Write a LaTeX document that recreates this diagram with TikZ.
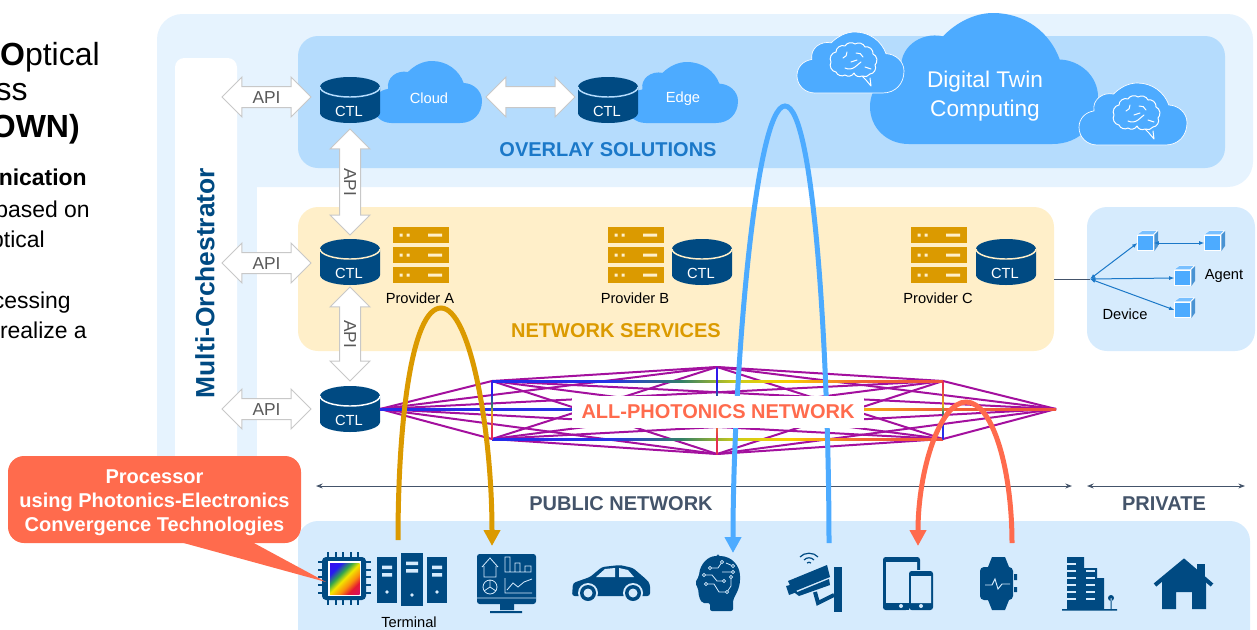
\documentclass[tikz,border=0pt]{standalone}
\usepackage{fontspec}
\setmainfont{Liberation Sans}
\usetikzlibrary{positioning,arrows.meta,shapes.arrows}

\definecolor{bandblue}{HTML}{E6F3FE}
\definecolor{overlaybg}{HTML}{B5DCFD}
\definecolor{servicebg}{HTML}{FFEFC9}
\definecolor{edgebg}{HTML}{D6EBFD}
\definecolor{cloudblue}{HTML}{4DABFF}
\definecolor{navy}{HTML}{004A82}
\definecolor{amber}{HTML}{DB9A00}
\definecolor{coral}{HTML}{FF6B4D}
\definecolor{slate}{HTML}{44546A}
\definecolor{titleblue}{HTML}{1B78C8}
\definecolor{meshpurple}{HTML}{A3109E}
\definecolor{apigray}{HTML}{C8C8C8}
\definecolor{apitext}{HTML}{595959}

\pgfdeclarehorizontalshading{rainbowh}{100bp}{rgb(0bp)=(.15,.1,.95); rgb(38bp)=(.15,.2,.9); rgb(46bp)=(.2,.5,.4); rgb(52bp)=(.8,.8,.1); rgb(58bp)=(.98,.8,0); rgb(66bp)=(.95,.4,.2); rgb(100bp)=(.9,.1,.4)}
\pgfdeclareverticalshading{rainbowup}{100bp}{rgb(0bp)=(.9,.1,.4); rgb(35bp)=(.9,.2,.3); rgb(48bp)=(.9,.7,.1); rgb(54bp)=(.2,.5,.4); rgb(65bp)=(.15,.1,.95); rgb(100bp)=(.4,.1,.8)}
\pgfdeclareverticalshading{rainbowdown}{100bp}{rgb(0bp)=(.15,.1,.95); rgb(40bp)=(.15,.2,.9); rgb(48bp)=(.2,.5,.4); rgb(54bp)=(.9,.7,.1); rgb(70bp)=(.9,.2,.3); rgb(100bp)=(.9,.1,.4)}
\pgfdeclarehorizontalshading{rainbowchip}{100bp}{rgb(0bp)=(.3,0,.9); rgb(28bp)=(.15,.1,.95); rgb(40bp)=(.2,.65,.3); rgb(50bp)=(.95,.9,0); rgb(62bp)=(.98,.55,.05); rgb(72bp)=(.9,.1,.2); rgb(100bp)=(.8,0,.6)}

\tikzset{
  smalltext/.style={font=\fontsize{11}{13}\selectfont},
  headtext/.style={font=\bfseries\fontsize{15}{18}\selectfont},
  introtext/.style={anchor=base east,inner sep=0pt,font=\fontsize{17.2}{20}\selectfont},
  titletext/.style={anchor=base east,inner sep=0pt,font=\fontsize{24}{28}\selectfont},
  apiarrow/.style={double arrow,draw=apigray,fill=white,line width=.75pt,inner sep=0pt,
    text height=12pt,text depth=3pt,double arrow head extend=7.1pt,double arrow tip angle=90,
    text=apitext,font=\fontsize{13}{15}\selectfont},
  meshline/.style={draw=meshpurple,line width=1.5pt},
  bigarc/.style={line width=3.75pt,-{Triangle[length=12pt,width=12pt]}},
  reach/.style={slate,line width=.75pt,{Stealth[length=5pt]}-{Stealth[length=5pt]}},
  devlink/.style={titleblue,line width=.75pt,{Latex[length=4pt]}-{Latex[length=4pt]}},
  cubeface/.style={draw=white,fill=cloudblue,line width=.6pt,minimum size=11.5pt,inner sep=0pt},
  cloudpath/.pic={
    \path[pic actions] (17,100) .. controls (7,100) and (0,87) .. (0,71.6)
      .. controls (0,57) and (6,47) .. (13.9,45)
      .. controls (12,27) and (22,14) .. (32,17.8)
      .. controls (38,7) and (46,0) .. (54,0)
      .. controls (68,0) and (79,15) .. (83.2,35.5)
      .. controls (92,36) and (100,48) .. (100,64)
      .. controls (100,85) and (92,100) .. (80,100) -- cycle;
  },
  brainpic/.pic={
    \draw[white,line width=.75pt,line join=round,line cap=round]
      (-17,7) to[bend left=60] (-22,-3) to[bend left=60] (-17,-13) to[bend left=60] (-8,-19)
      to[bend left=50] (2,-21) to[bend left=50] (12,-18) to[bend left=60] (20,-11)
      to[bend left=60] (22,0) to[bend left=60] (17,9) to[bend left=40] (9,11)
      -- (13,15) -- (18,21) -- (17,13) (9,11) to[bend left=50] (1,8)
      to[bend left=50] (-8,10) to[bend left=50] (-17,7);
    \draw[white,line width=.75pt,line cap=round]
      (-10,-7) to[bend right=40] (-6,-13) (-8,3) to[bend right=30] (2,2) -- (8,-3)
      (3,-12) to[bend left=40] (10,-8) (12,2) -- (18,4) (-2,-3) -- (4,-5);
  },
  ctlpic/.pic={
    \fill[navy] (-30,-13) .. controls (-30,-18.5) and (-16.5,-23) .. (0,-23)
      .. controls (16.5,-23) and (30,-18.5) .. (30,-13) -- (30,13)
      .. controls (30,18.5) and (16.5,23) .. (0,23)
      .. controls (-16.5,23) and (-30,18.5) .. (-30,13) -- cycle;
    \draw[#1,line width=1.1pt] (-30,-13) .. controls (-30,-7.5) and (-16.5,-3) .. (0,-3)
      .. controls (16.5,-3) and (30,-7.5) .. (30,-13);
    \node[smalltext,text=white,inner sep=0pt] (-text) at (-1,11) {CTL};
  },
  serverpic/.pic={
    \foreach \r in {0,20,40} {
      \fill[amber] (0,\r) rectangle (56,\r+16.3);
      \fill[servicebg] (6.5,\r+6.5) rectangle ++(3,3) (13.5,\r+6.5) rectangle ++(3,3)
        (35,\r+6.5) rectangle ++(14,3);
    }
  },
}

\begin{document}
\begin{tikzpicture}[x=.75pt,y=-.75pt]
  \useasboundingbox (0,0) rectangle (1257,629);
  \clip (0,0) rectangle (1257,629);

  % intro
  \node[titletext] (lineA) at (100,65) {\textbf{O}ptical};
  \node[titletext] (lineB) at (28,100) {ss};
  \node[titletext,font=\bfseries\fontsize{24}{28}\selectfont] (lineC) at (80,137) {OWN)};
  \node[introtext,font=\bfseries\fontsize{17.2}{20}\selectfont] (lineD) at (87,185) {nication};
  \node[introtext] (lineE) at (90,217) {based on};
  \node[introtext] (lineF) at (45,247) {ptical};
  \node[introtext] (lineG) at (71,308) {cessing};
  \node[introtext] (lineH) at (87,338) {realize a};

  % bands
  \fill[bandblue,rounded corners=19pt] (157,14) rectangle (1253,187);
  \fill[bandblue] (157,50) rectangle (257,500);
  \fill[bandblue] (257,100) rectangle (1100,187);
  \fill[white,rounded corners=7pt] (175,58) rectangle (237,520);
  \fill[overlaybg,rounded corners=15pt] (298,36) rectangle (1225,168);
  \fill[servicebg,rounded corners=15pt] (298,207) rectangle (1054,351);
  \fill[edgebg,rounded corners=15pt] (1087,207) rectangle (1255,351);
  \fill[edgebg,rounded corners=15pt] (298,521) rectangle (1250,660);
  \node[rotate=90,text=navy,font=\bfseries\fontsize{19.8}{24}\selectfont] (orch) at (205,283) {Multi-Orchestrator};

  % clouds
  \pic[fill=cloudblue] at (870,13) [xscale=2.28,yscale=1.31] {cloudpath};
  \pic[fill=cloudblue,draw=white,line width=.5pt] at (797,32) [xscale=1.07,yscale=.61] {cloudpath};
  \pic[fill=cloudblue,draw=white,line width=.5pt] at (1079,83) [xscale=1.08,yscale=.62] {cloudpath};
  \pic[fill=cloudblue] at (373,61) [xscale=1.09,yscale=.62] {cloudpath};
  \pic[fill=cloudblue] at (627,62) [xscale=1.11,yscale=.61] {cloudpath};
  \pic at (853,65) {brainpic};
  \pic at (1136,118) {brainpic};
  \node[text=white,align=center,font=\fontsize{17}{21.75}\selectfont] (twin) at (985,96) {Digital Twin\\Computing};
  \node[smalltext,text=white] (cloud) at (429,98) {Cloud};
  \node[smalltext,text=white] (edge) at (683,99) {Edge};
  \node[headtext,text=titleblue] (overlay) at (608,150) {OVERLAY SOLUTIONS};

  % services
  \pic at (393,227) {serverpic};
  \pic at (608,227) {serverpic};
  \pic at (911,227) {serverpic};
  \node[smalltext] (provA) at (420,298) {Provider A};
  \node[smalltext] (provB) at (635,298) {Provider B};
  \node[smalltext] (provC) at (938,298) {Provider C};
  \node[headtext,text=amber] (services) at (616,331) {NETWORK SERVICES};

  % API arrows
  \node[apiarrow,minimum height=66.75pt] (apiA) at (266.5,97) {API};
  \node[apiarrow,minimum height=66.75pt] (apiB) at (266.5,263) {API};
  \node[apiarrow,minimum height=66.75pt] (apiC) at (266.5,409) {API};
  \node[apiarrow,minimum height=79.5pt,rotate=-90] (apiD) at (350,182) {API};
  \node[apiarrow,minimum height=70.5pt,rotate=-90] (apiE) at (350,334) {API};
  \node[apiarrow,minimum height=66.75pt] (apiF) at (530.5,97) {};

  % CTL
  \pic (ctlA) at (350,100) {ctlpic=overlaybg};
  \pic (ctlB) at (608,100) {ctlpic=overlaybg};
  \pic (ctlC) at (350,262) {ctlpic=servicebg};
  \pic (ctlD) at (702,262) {ctlpic=servicebg};
  \pic (ctlE) at (1006,262) {ctlpic=servicebg};
  \pic (ctlF) at (350,409) {ctlpic=white};

  % mesh
  \coordinate (pA) at (380,409);
  \coordinate (pB) at (492,381);
  \coordinate (pC) at (717,367);
  \coordinate (pD) at (943,381);
  \coordinate (pE) at (1056,409);
  \coordinate (pF) at (943,439);
  \coordinate (pG) at (717,454);
  \coordinate (pH) at (492,439);
  \foreach \a [count=\i] in {pA,pB,pC,pD,pE,pF,pG,pH} {
    \foreach \b [count=\j] in {pA,pB,pC,pD,pE,pF,pG,pH} {
      \ifnum\i<\j \draw[meshline] (\a) -- (\b); \fi
    }
  }
  \shade[shading=rainbowh] (380,408) rectangle (1056,410);
  \shade[shading=rainbowh] (492,380) rectangle (943,382);
  \shade[shading=rainbowh] (492,438) rectangle (943,440);
  \shade[shading=rainbowup] (491.3,381) rectangle (492.7,439);
  \shade[shading=rainbowup] (716.3,367) rectangle (717.7,454);
  \shade[shading=rainbowdown] (942.3,381) rectangle (943.7,439);

  % terminal icons
  \foreach \xa/\xb/\ya/\yb in {377/397/557/603,401/423/553/606,427/447/557/603} {
    \fill[navy] (\xa,\ya) rectangle (\xb,\yb);
    \fill[edgebg] (\xa+5,\ya+8.5) rectangle (\xb-5,\ya+12) (\xa+5,\ya+16) rectangle (\xb-5,\ya+19.5);
    \fill[edgebg] (\xa/2+\xb/2,\yb-11) circle (1.8);
  }
  % monitor
  \fill[navy,rounded corners=2pt] (477,554) rectangle (536,604);
  \fill[navy] (500,604) rectangle (514,610) (490,611) rectangle (522,613);
  \draw[edgebg,line width=.6pt] (477,598) -- (536,598)
    (482,567) -- (490,558) -- (498,567) (484,566) -- (484,577) -- (496,577) -- (496,566)
    (490,587) circle (7) (490,587) -- (490,580) (490,587) -- (484,591) (490,587) -- (496,591)
    (505,572) -- (505,557) -- (510,557) -- (510,572) -- (515,572) -- (515,563) -- (520,563) -- (520,572) -- (525,572) -- (525,566) -- (531,566) -- (531,572) -- cycle
    (505,578) -- (505,593) -- (532,593) (507,590) -- (513,583) -- (518,587) -- (524,582) -- (532,579);
  % car
  \fill[navy,rounded corners=2pt] (572,596) -- (573,583) -- (590,577) -- (602,567) -- (620,565) -- (633,568) -- (647,580) -- (650,584) -- (650,596) -- cycle;
  \fill[edgebg] (596,577) -- (605,569) -- (615,568) -- (615,577) -- cycle (619,568) -- (628,570) -- (634,577) -- (619,577) -- cycle;
  \foreach \x in {588,633} {
    \fill[edgebg] (\x,593) circle (10);
    \fill[navy] (\x,593) circle (8);
    \fill[edgebg] (\x,593) circle (4.5);
  }
  % head
  \fill[navy,rounded corners=1.5pt] (718,556) .. controls (732,556) and (740,566) .. (740,578) .. controls (740,588) and (735,596) .. (733,600)
    -- (733,611) -- (710,611) -- (710,603) -- (702,603) -- (699,597) -- (698,588) -- (695,583) -- (699,576) .. controls (700,564) and (708,556) .. (718,556) -- cycle;
  \draw[edgebg,line width=.6pt] (704,575) -- (712,575) -- (717,581) -- (724,581) (710,568) -- (718,568) -- (722,562) (722,572) -- (733,572) (706,584) -- (714,584) -- (719,592) -- (727,592) (731,577) -- (731,586) -- (727,592) (726,563) -- (733,566);
  \foreach \x/\y in {704/575,724/581,710/568,722/562,733/572,706/584,727/592,731/577,733/566} {
    \fill[navy] (\x,\y) circle (1.8);
    \draw[edgebg,line width=.6pt] (\x,\y) circle (1.6);
  }
  % camera
  \fill[navy] (834,567) rectangle (842,612);
  \fill[navy] (788,581) -- (827,565) -- (830,577) -- (793,592) -- cycle (795,593) -- (829,579) -- (830,585) -- (799,596) -- cycle (786,586) -- (794,584) -- (797,592) -- (789,595) -- cycle;
  \draw[navy,line width=3pt] (815,592) -- (818,603) -- (834,595);
  \draw[navy,line width=.9pt] (800,557) .. controls (804,552) and (814,552) .. (818,557) (804,560) .. controls (807,557) and (811,557) .. (814,560) (807,563) .. controls (808,562) and (810,562) .. (811,563);
  % tablet and phone
  \fill[navy,rounded corners=2pt] (883,557) rectangle (920,610);
  \fill[edgebg] (886,562) rectangle (917,603) (906,570) rectangle (934,611);
  \fill[navy,rounded corners=2pt] (909,571) rectangle (933,610);
  \fill[navy] (886,603) rectangle (909,610);
  \fill[edgebg] (911,576) rectangle (931,603) (901,606) circle (2) (921,606) circle (2);
  % watch
  \fill[navy] (988,567) -- (992,557) -- (1005,557) -- (1009,567) (988,600) -- (992,610) -- (1005,610) -- (1009,600);
  \fill[navy,rounded corners=3pt] (980,567) rectangle (1013,600);
  \fill[navy] (1014,574) rectangle (1017,580) (1014,587) rectangle (1017,592);
  \draw[edgebg,line width=.7pt] (985,585) -- (992,585) -- (995,579) -- (998,589) -- (1002,584) -- (1010,584);
  % buildings
  \fill[navy] (1062,609) rectangle (1117,610.5) (1067,557) rectangle (1084,610) (1084,568) rectangle (1097,610) (1097,578) rectangle (1104,610);
  \fill[navy] (1111,598) circle (3) (1110.5,598) rectangle (1111.5,610);
  \foreach \y in {563,570,577,584,591,598} {
    \fill[edgebg] (1067,\y) rectangle (1076,\y+1.5);
    \ifnum\y>563 \fill[edgebg] (1086,\y) rectangle (1095,\y+1.5); \fi
  }
  % house
  \fill[navy] (1162,609) -- (1162,580) -- (1184,562) -- (1206,580) -- (1206,609) -- (1192,609) -- (1192,592) -- (1176,592) -- (1176,609) -- cycle;
  \draw[navy,line width=3pt] (1155,585) -- (1184,561) -- (1212,585);
  \fill[navy] (1197,564) rectangle (1205,578);
  \node[smalltext] (terminal) at (409,622) {Terminal};

  % chip
  \foreach \p in {0,...,4} {
    \draw[navy,line width=1.5pt] (328+\p*7.5,552) -- (328+\p*7.5,604.5);
    \draw[navy,line width=1.5pt] (318,562+\p*7.7) -- (371,562+\p*7.7);
  }
  \fill[navy,rounded corners=3pt] (322,557) rectangle (366,600);
  \fill[white] (328,561) rectangle (361,596);
  \shade[shading=rainbowchip,shading angle=-45] (330,563) rectangle (359.5,594);

  % callout
  \coordinate (chiptip) at (326,582);
  \node[fill=coral,rounded corners=12pt,minimum width=219.75pt,minimum height=65.25pt,inner sep=0pt] (procbox) at (154.5,499.5) {};
  \fill[coral] (180,542) -- (252,542) -- (chiptip) -- cycle;
  \node[text=white,align=center,font=\bfseries\fontsize{15}{18}\selectfont] (proc) at (154.5,502.5) {Processor\\using Photonics-Electronics\\Convergence Technologies};

  % reach
  \coordinate (pubL) at (316,486);
  \coordinate (pubR) at (1072,486);
  \coordinate (priL) at (1087,486);
  \coordinate (priR) at (1245,486);
  \draw[reach] (pubL) -- (pubR);
  \draw[reach] (priL) -- (priR);
  \node[headtext,text=slate] (public) at (621,504) {PUBLIC NETWORK};
  \node[headtext,text=slate] (private) at (1164,504) {PRIVATE};

  % devices
  \coordinate (hub) at (1090,279);
  \draw[slate,line width=.75pt] (1054,279) -- (hub);
  \foreach \n/\x/\y in {devA/1145.5/243,devB/1212.5/243,devC/1182.5/278,devD/1182.5/310} {
    \node[cubeface] (\n) at (\x,\y) {};
    \fill[white] (\n.north west) -- ++(5,-4.5) -- ++(15.3,0) -- ++(0,15.5) -- (\n.south east) -- (\n.north east) -- cycle;
    \fill[cloudblue!75!white] ([shift={(.5,-.5)}]\n.north west) -- ++(4.5,-3.5) -- ++(14,0) -- ([shift={(-.5,-.5)}]\n.north east) -- cycle;
    \fill[titleblue!80!white] ([shift={(.7,0)}]\n.north east) -- ++(3.8,-4) -- ++(0,15) -- ([shift={(.7,0)}]\n.south east) -- cycle;
  }
  \draw[devlink] (hub) -- (devA.west);
  \draw[devlink] (hub) -- (devC.west);
  \draw[devlink] (hub) -- (devD.west);
  \draw[devlink] (devA.east) -- (devB.west);
  \node[smalltext] (agent) at (1224,276) {Agent};
  \node[smalltext] (device) at (1125,314) {Device};

  % arcs
  \coordinate (amberA) at (398,540);
  \coordinate (amberB) at (492,546);
  \coordinate (blueA) at (829,543);
  \coordinate (blueB) at (733,553);
  \coordinate (coralA) at (1012,543);
  \coordinate (coralB) at (918,546);
  \draw[bigarc,amber] (amberA) .. controls (398,420) and (412,308) .. (441,308) .. controls (470,308) and (492,430) .. (amberB);
  \draw[bigarc,cloudblue] (blueA) .. controls (829,370) and (815,106) .. (785,106) .. controls (755,106) and (733,380) .. (blueB);
  \draw[bigarc,coral] (coralA) .. controls (1012,470) and (993,402) .. (966,402) .. controls (940,402) and (918,470) .. (coralB);

  % network label
  \node[headtext,text=coral,fill=white,minimum width=219pt,minimum height=24pt,inner sep=0pt] (photonics) at (718,412) {ALL-PHOTONICS NETWORK};
\end{tikzpicture}
\end{document}
